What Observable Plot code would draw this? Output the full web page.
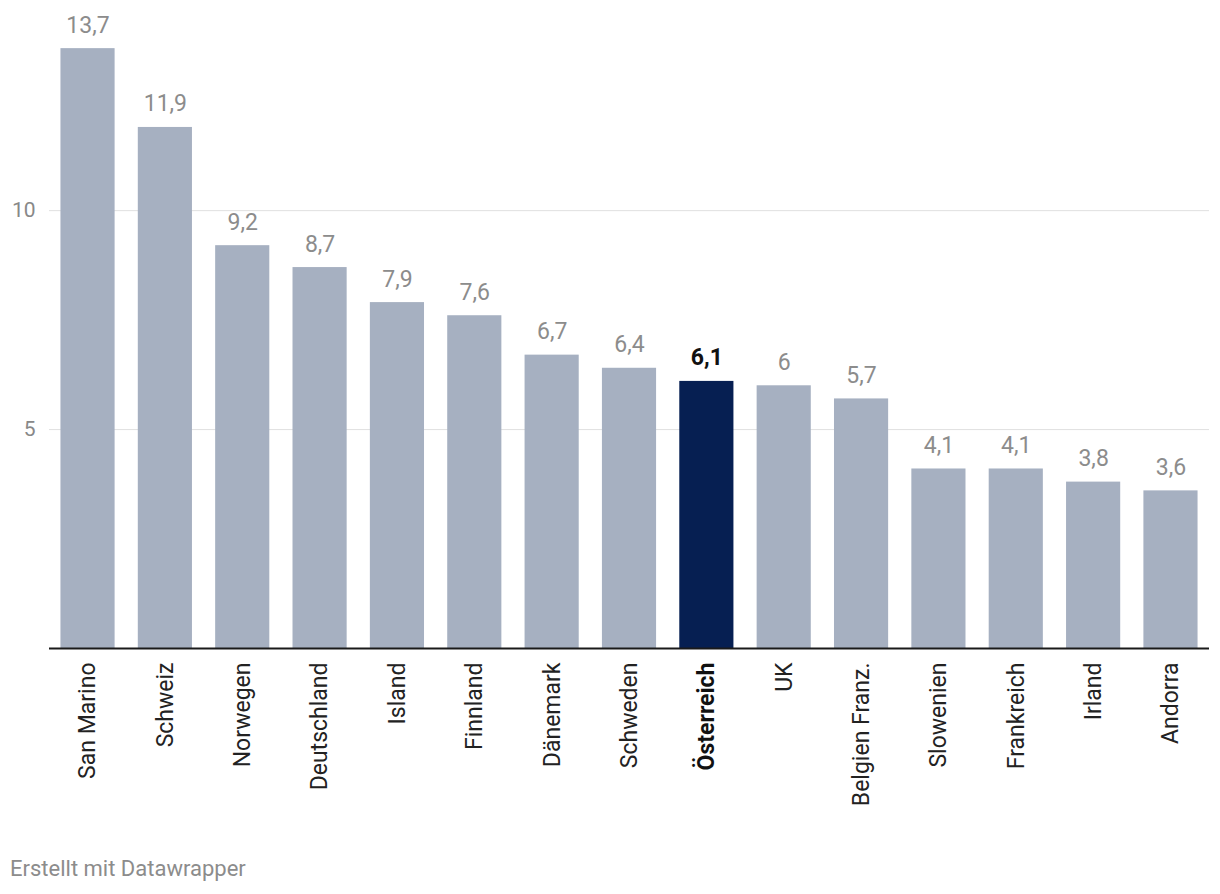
<!DOCTYPE html>
<html><head><meta charset="utf-8">
<script src="https://cdn.jsdelivr.net/npm/d3@7"></script>
<script src="https://cdn.jsdelivr.net/npm/@observablehq/plot@0.6"></script>
<style>
body{margin:0;background:#fff;font-family:Roboto,sans-serif;}
#caption{position:absolute;left:10px;top:856px;font-size:22px;color:#8c8c8c;font-family:Roboto,sans-serif;}
</style></head><body>
<div id="chart"></div>
<div id="caption">Erstellt mit Datawrapper</div>
<script>
const countries = ["San Marino","Schweiz","Norwegen","Deutschland","Island","Finnland","Dänemark","Schweden","Österreich","UK","Belgien Franz.","Slowenien","Frankreich","Irland","Andorra"];
const values = [13.7,11.9,9.2,8.7,7.9,7.6,6.7,6.4,6.1,6,5.7,4.1,4.1,3.8,3.6];
const highlight = "Österreich";
const yTicks = [5,10];

const data = countries.map((c,i)=>({country:c, value:values[i]}));
const fmt = v => String(v).replace(".", ",");
const hi = data.filter(d=>d.country===highlight);
const rest = data.filter(d=>d.country!==highlight);

const chart = Plot.plot({
  width: 1220, height: 840,
  marginLeft: 49, marginRight: 11, marginTop: 35, marginBottom: 192,
  style: {fontFamily: "Roboto, sans-serif", fontSize: "20px", background: "#fff"},
  x: {domain: countries, paddingInner: 0.3, paddingOuter: 0.148, round: false, label: null},
  y: {domain: [0,14], label: null},
  marks: [
    Plot.gridY(yTicks, {stroke: "#e0e0e0", strokeOpacity: 1, strokeWidth: 1}),
    Plot.axisY(yTicks, {tickSize: 0, tickPadding: 14, fill: "#888", fontSize: 21, label: null}),
    Plot.barY(data, {x: "country", y: "value", fill: d => d.country===highlight ? "#061f52" : "#a6b0c1"}),
    Plot.ruleY([0], {stroke: "#1a1a1a", strokeWidth: 2}),
    Plot.axisX({tickSize: 0, tickPadding: 14, tickRotate: -90, fill: "#222", fontSize: 23, label: null,
      tickFormat: d => d===highlight ? "" : d}),
    Plot.axisX([highlight], {tickSize: 0, tickPadding: 14, tickRotate: -90, fill: "#111", fontSize: 23, fontWeight: "bold", label: null}),
    Plot.text(rest, {x: "country", y: "value", text: d => fmt(d.value), lineAnchor: "bottom", dy: -16, fill: "#8c8c8c", fontSize: 23}),
    Plot.text(hi, {x: "country", y: "value", text: d => fmt(d.value), lineAnchor: "bottom", dy: -16, fill: "#111", fontSize: 23, fontWeight: "bold"})
  ]
});
document.getElementById("chart").appendChild(chart);
</script>
</body></html>
